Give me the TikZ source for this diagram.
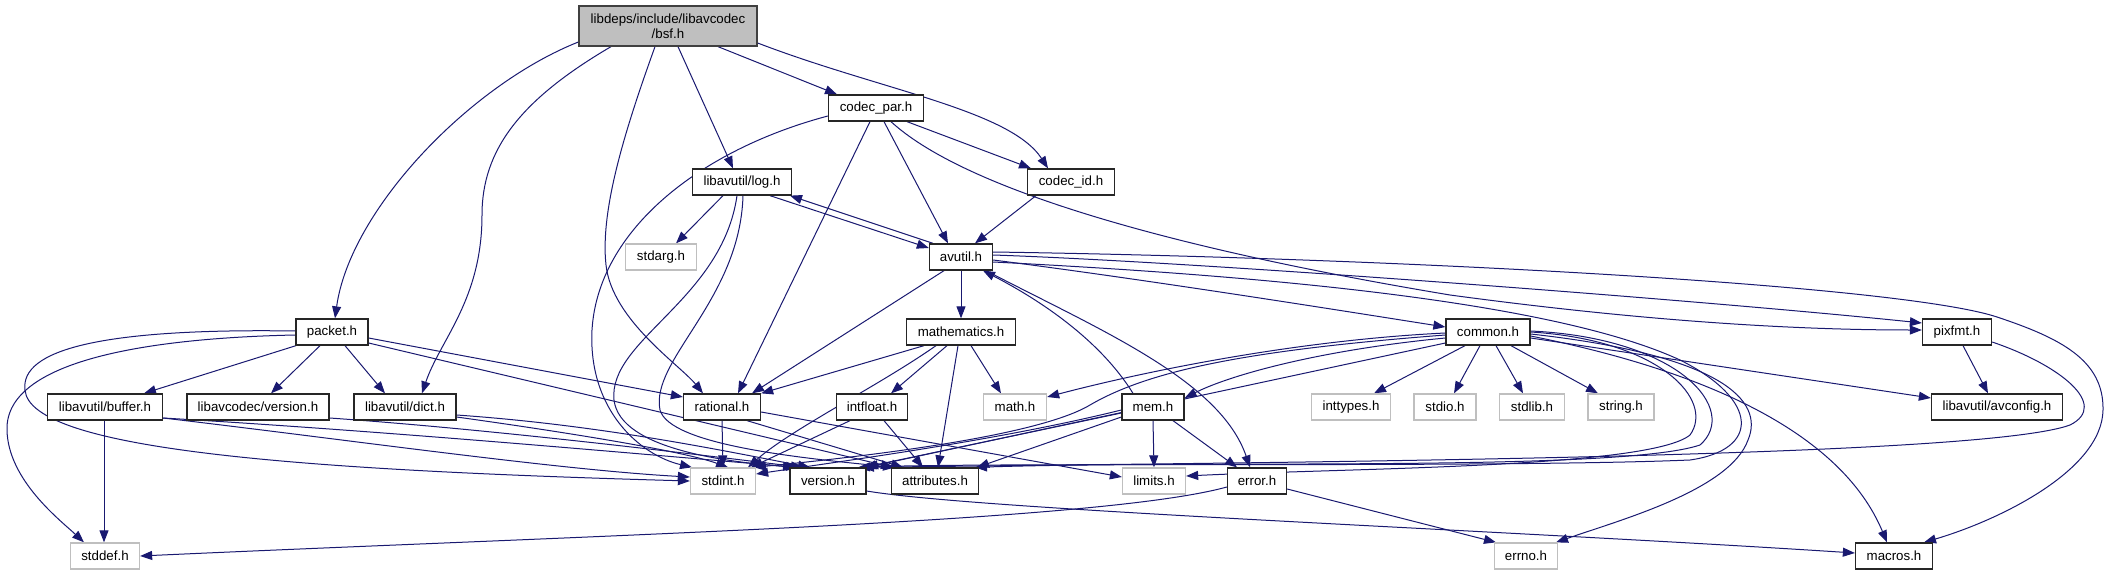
\documentclass[tikz,border=0pt]{standalone}
\usepackage{fontspec}
\setmainfont{Liberation Sans}
\usetikzlibrary{arrows.meta}
\definecolor{edgec}{HTML}{191970}
\definecolor{lgray}{HTML}{BFBFBF}
\pgfdeclarelayer{bg}
\pgfsetlayers{bg,main}
\begin{document}
\begin{tikzpicture}[x=1pt,y=-1pt,
  every node/.style={font=\fontsize{13.3}{15}\selectfont, inner sep=0pt, minimum height=26pt},
  box/.style={draw=black!85, line width=1.3pt, fill=white},
  sysbox/.style={draw=lgray, line width=1.3pt, fill=white},
  edge/.style={draw=edgec, line width=1pt, -{Triangle[length=12pt,width=9pt]}}]
\useasboundingbox (0,0) rectangle (2109,575);
% nodes
\node[box, fill=lgray, draw=black!75, minimum width=178, minimum height=40, align=center] (bsf) at (668,26) {libdeps/include/libavcodec\\/bsf.h};
\node[box, minimum width=95] (codecpar) at (876,108) {codec\_par.h};
\node[box, minimum width=99] (log) at (742,182) {libavutil/log.h};
\node[box, minimum width=87] (codecid) at (1071,182) {codec\_id.h};
\node[sysbox, minimum width=71] (stdarg) at (661,257) {stdarg.h};
\node[box, minimum width=63] (avutil) at (961,257) {avutil.h};
\node[box, minimum width=72] (packet) at (332,332) {packet.h};
\node[box, minimum width=109] (mathem) at (961,332) {mathematics.h};
\node[box, minimum width=84] (common) at (1488,332) {common.h};
\node[box, minimum width=69] (pixfmt) at (1957,332) {pixfmt.h};
\node[box, minimum width=115] (buffer) at (105,407) {libavutil/buffer.h};
\node[box, minimum width=142] (lavcver) at (258,407) {libavcodec/version.h};
\node[box, minimum width=102] (dict) at (405,407) {libavutil/dict.h};
\node[box, minimum width=77] (rational) at (722,407) {rational.h};
\node[box, minimum width=71] (intfloat) at (872,407) {intfloat.h};
\node[sysbox, minimum width=63] (mathh) at (1015,407) {math.h};
\node[box, minimum width=62] (mem) at (1153,407) {mem.h};
\node[sysbox, minimum width=79] (inttypes) at (1351,407) {inttypes.h};
\node[sysbox, minimum width=62] (stdio) at (1445,407) {stdio.h};
\node[sysbox, minimum width=65] (stdlib) at (1532,407) {stdlib.h};
\node[sysbox, minimum width=66] (string) at (1621,407) {string.h};
\node[box, minimum width=131] (avconfig) at (1997,407) {libavutil/avconfig.h};
\node[sysbox, minimum width=65] (stdint) at (723,481) {stdint.h};
\node[box, minimum width=76] (version) at (828,481) {version.h};
\node[box, minimum width=87] (attributes) at (935,481) {attributes.h};
\node[sysbox, minimum width=63] (limits) at (1154,481) {limits.h};
\node[box, minimum width=59] (error) at (1257,481) {error.h};
\node[sysbox, minimum width=69] (stddef) at (105,556) {stddef.h};
\node[sysbox, minimum width=63] (errno) at (1526,556) {errno.h};
\node[box, minimum width=77] (macros) at (1894,556) {macros.h};
\begin{pgfonlayer}{bg}
% bsf.h
\draw[edge] ([yshift=-16]bsf.west) .. controls (470,85) and (350,210) .. ([xshift=3]packet.north);
\draw[edge] ([xshift=-57]bsf.south) .. controls (520,100) and (482,150) .. (482,215) .. controls (482,300) and (440,340) .. ([xshift=17]dict.north);
\draw[edge] ([xshift=-13]bsf.south) .. controls (625,130) and (600,210) .. (606,265) .. controls (612,320) and (680,365) .. ([xshift=-19]rational.north);
\draw[edge] ([xshift=10]bsf.south) -- ([xshift=-9]log.north);
\draw[edge] ([xshift=50]bsf.south) -- ([xshift=-39]codecpar.north);
\draw[edge] ([yshift=-17]bsf.east) .. controls (880,90) and (1010,110) .. ([xshift=-23]codecid.north);
% codec_par.h
\draw[edge] ([yshift=-8]codecpar.west) .. controls (700,150) and (598,230) .. (592,330) .. controls (588,410) and (640,455) .. ([xshift=-31]stdint.north);
\draw[edge] ([xshift=-6]codecpar.south) -- ([xshift=16]rational.north);
\draw[edge] ([xshift=8]codecpar.south) -- ([xshift=-13]avutil.north);
\draw[edge] ([xshift=31]codecpar.south) -- ([xshift=-40]codecid.north);
\draw[edge] ([xshift=15]codecpar.south) .. controls (960,185) and (1150,245) .. (1450,295) .. controls (1650,322) and (1800,330) .. ([yshift=2]pixfmt.west);
\draw[edge] ([xshift=-35]codecid.south) -- ([xshift=14]avutil.north);
% log.h
\draw[edge] ([xshift=-19]log.south) -- ([xshift=15]stdarg.north);
\draw[edge] ([xshift=28]log.south) -- ([yshift=9]avutil.west);
\draw[edge] ([xshift=1]log.south) .. controls (740,300) and (650,360) .. (660,410) .. controls (670,445) and (800,458) .. ([xshift=-40]attributes.north);
\draw[edge] ([xshift=-5]log.south) .. controls (722,300) and (608,340) .. (614,400) .. controls (620,450) and (730,462) .. ([xshift=-33]version.north);
% avutil.h
\draw[edge] ([xshift=-28]avutil.north) -- ([xshift=48]log.south);
\draw[edge] (avutil.south) -- (mathem.north);
\draw[edge] ([xshift=-17]avutil.south) -- ([xshift=30]rational.north);
\draw[edge] ([yshift=-3]avutil.east) .. controls (1150,280) and (1350,312) .. ([yshift=5]common.west);
\draw[edge] ([yshift=2]avutil.east) .. controls (1200,262) and (1700,300) .. ([yshift=9]pixfmt.west);
\draw[edge] ([yshift=5]avutil.east) .. controls (1400,258) and (1900,285) .. (1997,317) .. controls (2060,338) and (2104,360) .. (2103,410) .. controls (2102,470) and (2000,520) .. ([xshift=30]macros.north);
\draw[edge] ([xshift=25]avutil.south) .. controls (1100,330) and (1220,380) .. ([xshift=-7]error.north);
\draw[edge] ([yshift=-5]avutil.east) .. controls (1250,275) and (1550,300) .. (1680,360) .. controls (1760,400) and (1760,450) .. (1690,460) .. controls (1500,468) and (1000,462) .. ([xshift=30]version.north);
% packet.h
\draw[edge] ([yshift=-3]packet.west) .. controls (150,338) and (5,360) .. (7,430) .. controls (8,480) and (60,520) .. ([xshift=-21]stddef.north);
\draw[edge] ([yshift=1]packet.west) .. controls (100,328) and (20,350) .. (25,390) .. controls (30,450) and (300,470) .. (stdint.west);
\draw[edge] ([yshift=-11]packet.east) -- ([xshift=-42]attributes.north);
\draw[edge] ([xshift=-36]packet.south) -- ([xshift=39]buffer.north);
\draw[edge] ([xshift=-12]packet.south) -- ([xshift=13]lavcver.north);
\draw[edge] ([xshift=13]packet.south) -- ([xshift=-20]dict.north);
\draw[edge] ([yshift=-6]packet.east) -- ([yshift=10]rational.west);
% buffer, lavc version, dict
\draw[edge] ([xshift=-1]buffer.south) -- ([xshift=-1]stddef.north);
\draw[edge] ([yshift=-11]buffer.east) .. controls (350,440) and (560,470) .. ([yshift=4]stdint.west);
\draw[edge] ([yshift=-11]buffer.east) .. controls (400,432) and (650,455) .. ([xshift=-30]version.north);
\draw[edge] ([yshift=-11]lavcver.east) .. controls (500,430) and (700,455) .. ([xshift=-25]version.north);
\draw[edge] ([yshift=-10]dict.east) .. controls (550,430) and (680,450) .. ([xshift=5]stdint.north);
\draw[edge] ([yshift=-8]dict.east) .. controls (600,425) and (720,450) .. ([xshift=-18]version.north);
% rational.h
\draw[edge] (rational.south) -- (stdint.north);
\draw[edge] ([xshift=25]rational.south) -- ([xshift=-32]attributes.north);
\draw[edge] ([yshift=-5]rational.east) -- ([yshift=4]limits.west);
% mathematics.h
\draw[edge] ([xshift=-25]mathem.south) .. controls (880,385) and (790,430) .. ([xshift=25]stdint.north);
\draw[edge] ([xshift=10]mathem.south) -- ([xshift=-14]mathh.north);
\draw[edge] ([xshift=-3]mathem.south) -- ([xshift=3]attributes.north);
\draw[edge] ([xshift=-37]mathem.south) -- (rational.north east);
\draw[edge] ([xshift=-14]mathem.south) -- ([xshift=19]intfloat.north);
% intfloat.h
\draw[edge] ([xshift=-22]intfloat.south) -- ([xshift=28]stdint.north);
\draw[edge] ([xshift=12]intfloat.south) -- ([xshift=-12]attributes.north);
% common.h
\draw[edge] ([xshift=-23]common.south) -- ([xshift=23]inttypes.north);
\draw[edge] ([xshift=-8]common.south) -- ([xshift=9]stdio.north);
\draw[edge] ([xshift=8]common.south) -- ([xshift=-9]stdlib.north);
\draw[edge] ([xshift=23]common.south) -- ([xshift=-23]string.north);
\draw[edge] ([yshift=-6]common.east) -- ([yshift=9]avconfig.west);
\draw[edge] ([yshift=-4]common.east) .. controls (1700,370) and (1840,430) .. ([xshift=-7]macros.north);
\draw[edge] ([yshift=-2]common.east) .. controls (1720,355) and (1765,400) .. (1748,440) .. controls (1730,490) and (1620,520) .. ([xshift=30]errno.north);
\draw[edge] (common.east) .. controls (1660,340) and (1715,400) .. (1690,435) .. controls (1650,468) and (1350,468) .. ([yshift=5]limits.east);
\draw[edge] ([yshift=1]common.east) .. controls (1680,338) and (1740,410) .. (1700,445) .. controls (1620,472) and (1200,460) .. ([xshift=40]attributes.north);
\draw[edge] ([yshift=-3]common.west) .. controls (1250,350) and (1150,370) .. (1090,405) .. controls (1040,435) and (880,455) .. ([xshift=31]stdint.north);
\draw[edge] ([yshift=-1]common.west) .. controls (1300,340) and (1150,370) .. ([yshift=10]mathh.east);
\draw[edge] ([yshift=-6]common.west) .. controls (1320,350) and (1230,375) .. ([yshift=9]mem.east);
\draw[edge] ([yshift=-11]common.west) -- ([xshift=38]version.north);
% mem.h
\draw[edge] ([xshift=-20]mem.north) .. controls (1100,340) and (1040,300) .. ([xshift=22]avutil.south);
\draw[edge] (mem.south) -- (limits.north);
\draw[edge] ([xshift=20]mem.south) -- ([xshift=-20]error.north);
\draw[edge] ([yshift=-3]mem.west) .. controls (1000,440) and (850,460) .. ([yshift=7]stdint.east);
\draw[edge] ([yshift=-6]mem.west) -- ([xshift=36]version.north);
\draw[edge] ([yshift=-10]mem.west) -- ([xshift=42]attributes.north);
% error.h
\draw[edge] ([yshift=-8]error.east) -- ([xshift=-30]errno.north);
\draw[edge] ([yshift=-6]error.west) .. controls (1100,522) and (600,535) .. (stddef.east);
% version.h
\draw[edge] ([yshift=-10]version.east) .. controls (980,510) and (1500,530) .. ([yshift=3]macros.west);
% pixfmt.h
\draw[edge] ([xshift=6]pixfmt.south) -- ([xshift=-9]avconfig.north);
\draw[edge] ([yshift=-10]pixfmt.east) .. controls (2060,365) and (2110,405) .. (2070,425) .. controls (1980,458) and (1300,462) .. ([xshift=34]version.north);
\end{pgfonlayer}
\end{tikzpicture}
\end{document}
